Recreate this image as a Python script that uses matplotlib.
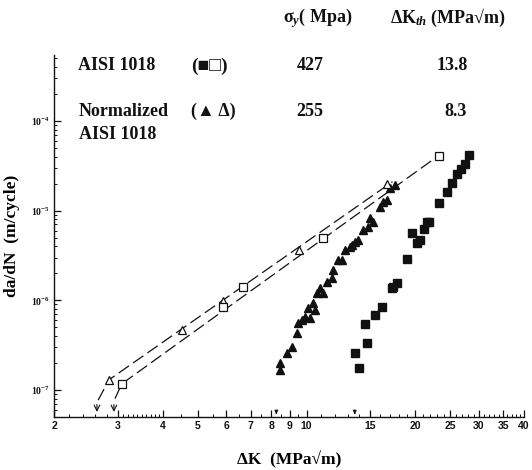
import numpy as np
import matplotlib.pyplot as plt
from matplotlib.ticker import FixedLocator, NullFormatter

plt.rcParams['font.family'] = ['Liberation Serif', 'DejaVu Serif']
plt.rcParams['mathtext.fontset'] = 'custom'
plt.rcParams['mathtext.rm'] = 'Liberation Serif:bold'
plt.rcParams['mathtext.it'] = 'Liberation Serif:italic:bold'
plt.rcParams['mathtext.bf'] = 'Liberation Serif:bold'

# AISI 1018 (squares)
sq_fill_K = [14.0, 13.64, 14.72, 14.54, 15.5, 16.2, 17.3, 17.4, 17.83, 19.0, 20.26, 20.65,
             19.6, 21.6, 21.2, 21.9, 23.2, 24.5, 25.3, 26.1, 26.8, 27.5, 28.2]
sq_fill_v = [1.76e-7, 2.58e-7, 3.34e-7, 5.45e-7, 6.86e-7, 8.4e-7, 1.37e-6, 1.41e-6, 1.56e-6,
             2.88e-6, 4.36e-6, 4.7e-6, 5.6e-6, 7.46e-6, 6.24e-6, 7.46e-6, 1.22e-5, 1.61e-5,
             2.03e-5, 2.56e-5, 2.91e-5, 3.3e-5, 4.17e-5]
sq_open_K = [3.08, 5.88, 6.68, 11.1, 23.2]
sq_open_v = [1.17e-7, 8.4e-7, 1.41e-6, 4.95e-6, 4.1e-5]
sq_line_K = [2.95, 3.08, 23.2]
sq_line_v = [8.0e-8, 1.17e-7, 4.1e-5]

# normalized AISI 1018 (triangles)
tri_fill_K = [8.45, 8.45, 8.84, 9.13, 9.42, 9.48, 9.72, 9.91, 10.24, 10.1, 10.43, 10.57,
              10.7, 10.91, 11.12, 11.4, 11.78, 11.85, 12.24, 12.56, 12.8, 13.2, 13.38, 13.64,
              13.9, 14.35, 14.8, 15.0, 15.3, 16.0, 16.3, 16.7, 17.06, 17.6]
tri_fill_v = [1.67e-7, 2.0e-7, 2.58e-7, 3.0e-7, 4.3e-7, 5.6e-7, 6.0e-7, 6.5e-7, 6.4e-7,
              8.2e-7, 9.3e-7, 7.8e-7, 1.2e-6, 1.37e-6, 1.2e-6, 1.6e-6, 1.77e-6, 2.18e-6,
              2.8e-6, 2.8e-6, 3.6e-6, 3.9e-6, 4.1e-6, 4.5e-6, 4.7e-6, 6.1e-6, 6.6e-6, 8.3e-6,
              7.5e-6, 1.1e-5, 1.25e-5, 1.31e-5, 1.79e-5, 1.93e-5]
tri_open_K = [2.84, 4.53, 5.88, 9.55, 16.7]
tri_open_v = [1.3e-7, 4.7e-7, 9.8e-7, 3.6e-6, 2.0e-5]
tri_line_K = [2.65, 2.84, 17.3]
tri_line_v = [7.7e-8, 1.3e-7, 2.1e-5]

# threshold arrows
thr_K = [2.63, 2.93]
thr_mark_K = [8.25, 13.6]

x_ticks = [2, 3, 4, 5, 6, 7, 8, 9, 10, 15, 20, 25, 30, 35, 40]
y_ticks = [1e-7, 1e-6, 1e-5, 1e-4]

fig = plt.figure(figsize=(5.32, 4.70), dpi=100)
ax = fig.add_axes([54 / 532, 1 - 417 / 470, 470 / 532, 362.5 / 470])
ax.set_xscale('log')
ax.set_yscale('log')
ax.set_xlim(2, 40)
ax.set_ylim(5e-8, 5.5e-4)

ink = '#111111'
dash = (0, (10, 4))
ax.plot(tri_line_K, tri_line_v, ls=dash, lw=0.9, color=ink, zorder=2)
ax.plot(sq_line_K, sq_line_v, ls=dash, lw=0.9, color=ink, zorder=2)
ax.plot(tri_fill_K, tri_fill_v, ls='none', marker='^', ms=5.5, color=ink, zorder=3)
ax.plot(sq_fill_K, sq_fill_v, ls='none', marker='s', ms=5.5, color=ink, zorder=3)
ax.plot(tri_open_K, tri_open_v, ls='none', marker='^', ms=6, mfc='white', mec=ink,
        mew=0.9, zorder=4)
ax.plot(sq_open_K, sq_open_v, ls='none', marker='s', ms=5.5, mfc='white', mec=ink,
        mew=0.9, zorder=4)

for k in thr_K:
    ax.annotate('', xy=(k, 5.3e-8), xytext=(k, 7.4e-8),
                arrowprops=dict(arrowstyle='->', lw=0.8, color=ink))
for k in thr_mark_K:
    ax.annotate('', xy=(k, 5.0e-8), xytext=(k, 6.0e-8),
                arrowprops=dict(arrowstyle='-|>', lw=0.8, color=ink, mutation_scale=5))

for s in ['top', 'right']:
    ax.spines[s].set_visible(False)
for s in ['left', 'bottom']:
    ax.spines[s].set_linewidth(1.0)
    ax.spines[s].set_color(ink)

ax.xaxis.set_major_locator(FixedLocator(x_ticks))
ax.set_xticklabels([str(t) for t in x_ticks], fontfamily='Liberation Sans',
                   fontweight='bold', fontsize=7.5)
minor_x = list(np.arange(2.2, 3, 0.2)) + list(np.arange(3.1, 4, 0.1)) + \
    list(np.arange(4.5, 10, 0.5)) + list(range(11, 20)) + list(range(21, 40))
ax.xaxis.set_minor_locator(FixedLocator(minor_x))
ax.xaxis.set_minor_formatter(NullFormatter())

ax.yaxis.set_major_locator(FixedLocator(y_ticks))
ax.set_yticklabels([r'$10^{-7}$', r'$10^{-6}$', r'$10^{-5}$', r'$10^{-4}$'], fontsize=7)
minor_y = [m * 10.0 ** e for e in range(-8, -3) for m in range(2, 10)]
ax.yaxis.set_minor_locator(FixedLocator(minor_y))
ax.yaxis.set_minor_formatter(NullFormatter())

ax.tick_params(which='major', direction='in', length=5, width=0.9, colors=ink, pad=3)
ax.tick_params(which='minor', direction='in', length=2.5, width=0.7, colors=ink)

ax.set_ylabel('da/dN  (m/cycle)', fontsize=12.5, fontweight='bold', labelpad=8)
ax.set_xlabel(r'ΔK  (MPa√m)', fontsize=12.5, fontweight='bold', labelpad=14)

def ftext(px, py, s, ha='left', size=13):
    fig.text(px / 532, 1 - py / 470, s, ha=ha, va='center', fontsize=size,
             fontweight='bold', color=ink)

ftext(318, 18, r'σ$_{y}$( Mpa)', ha='center')
ftext(448, 18, r'ΔK$_{th}$ (MPa√m)', ha='center')
ftext(78, 66, 'AISI 1018')
ftext(209, 66, '(■□)', ha='center', size=14)
ftext(310, 66, '427', ha='center')
ftext(452, 66, '13.8', ha='center')
ftext(79, 111, 'Normalized')
ftext(213, 111, '(▲ Δ)', ha='center')
ftext(310, 111, '255', ha='center')
ftext(456, 111, '8.3', ha='center')
ftext(79, 134, 'AISI 1018')

fig.savefig('out.png', dpi=100)
